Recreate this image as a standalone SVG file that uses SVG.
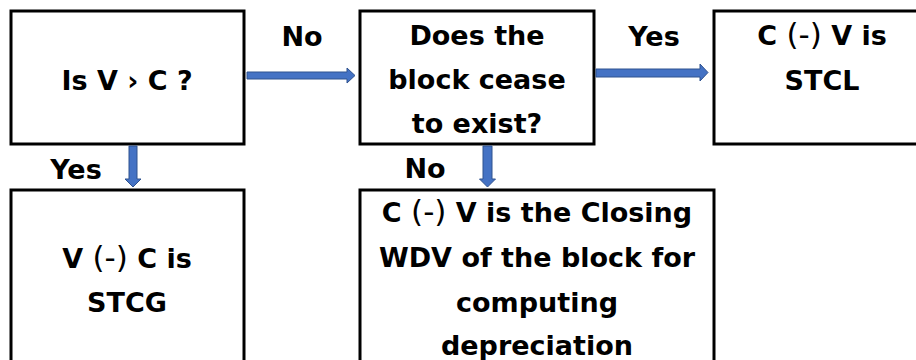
<svg xmlns="http://www.w3.org/2000/svg" width="916" height="360" viewBox="0 0 916 360">
<style>
.box{fill:#fff;stroke:#000;stroke-width:3}
.t{font-family:"DejaVu Sans","Liberation Sans",sans-serif;font-weight:700;font-size:27px;fill:#000;text-anchor:middle}
.p{font-family:"DejaVu Sans","Liberation Sans",sans-serif;font-weight:400;font-size:31px}
.arr{fill:#4472C4;stroke:#2F528F;stroke-width:1}
</style>
<rect width="916" height="360" fill="#fff"/>
<g id="n1"><rect class="box" x="11" y="11" width="233" height="133"/><text class="t" x="127" y="90">Is V › C ?</text></g>
<g id="n2"><rect class="box" x="360" y="11" width="234" height="133"/><text class="t" x="477" y="45">Does the</text><text class="t" x="477" y="89">block cease</text><text class="t" x="477" y="133">to exist?</text></g>
<g id="n3"><rect class="box" x="714" y="11" width="220" height="133"/><text class="t" x="822" y="45">C <tspan class="p">(-)</tspan> V is</text><text class="t" x="822" y="90">STCL</text></g>
<g id="n4"><rect class="box" x="11" y="190" width="233" height="180"/><text class="t" x="127" y="268">V <tspan class="p">(-)</tspan> C is</text><text class="t" x="127" y="312">STCG</text></g>
<g id="n5"><rect class="box" x="360" y="190" width="354" height="180"/><text class="t" x="537" y="222">C <tspan class="p">(-)</tspan> V is the Closing</text><text class="t" x="537" y="267">WDV of the block for</text><text class="t" x="537" y="312">computing</text><text class="t" x="537" y="355">depreciation</text></g>
<g id="connectors">
<path class="arr" d="M247,72 H347 V68 L355,75.5 L347,83 V79 H247 Z"/>
<path class="arr" d="M596,69 H700 V64 L708,72.5 L700,81 V77 H596 Z"/>
<path class="arr" d="M129,146 V179 H125 L133,187 L141,179 H137 V146 Z"/>
<path class="arr" d="M483,146 V179 H479.5 L487.5,187 L495.5,179 H492 V146 Z"/>
<text class="t" x="302" y="46">No</text>
<text class="t" x="654" y="46">Yes</text>
<text class="t" x="76" y="179">Yes</text>
<text class="t" x="425" y="178">No</text>
</g>
</svg>
